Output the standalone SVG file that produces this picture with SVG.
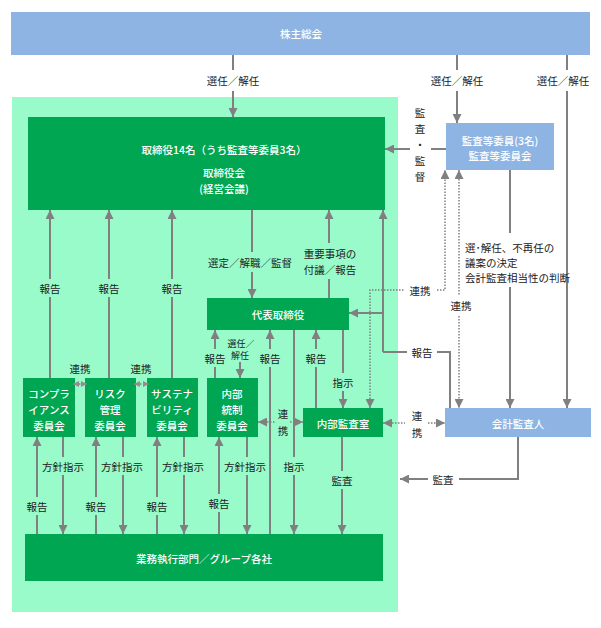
<svg xmlns="http://www.w3.org/2000/svg" width="601" height="628" viewBox="0 0 601 628">
<defs>
<marker id="ah" viewBox="0 0 10 10" refX="10" refY="5" markerWidth="9" markerHeight="9" markerUnits="userSpaceOnUse" orient="auto-start-reverse"><path d="M0,0 L10,5 L0,10 z" fill="#808080"/></marker>
<marker id="ahs" viewBox="0 0 10 10" refX="10" refY="5" markerWidth="6" markerHeight="9" markerUnits="userSpaceOnUse" orient="auto-start-reverse"><path d="M0,0 L10,5 L0,10 z" fill="#9a8a90"/></marker>
<style>
.ln{fill:none;stroke:#808080;stroke-width:2}
.dt{fill:none;stroke:#808080;stroke-width:1.5;stroke-dasharray:1.5 1.5}
.t{font-family:"Noto Sans CJK JP","Noto Sans",sans-serif;font-size:10.5px;fill:#222;text-anchor:middle;dominant-baseline:central}
.w{font-family:"Noto Sans CJK JP","Noto Sans",sans-serif;font-size:10.5px;fill:#fff;text-anchor:middle;dominant-baseline:central;font-weight:500}
.s{font-size:9px}
.l{text-anchor:start}
.blue{fill:#8DB4E2}
.dg{fill:#00A651}
</style>
</defs>
<rect x="12" y="97" width="386" height="515" fill="#99FBC9"/>

<g id="shareholders"><rect class="blue" x="11" y="12" width="579" height="43"/><text class="w" x="301" y="33">株主総会</text></g>
<g id="board"><rect class="dg" x="28" y="117" width="357" height="93"/><text class="w" x="224" y="149">取締役14名（うち監査等委員3名）</text><text class="w" x="224" y="172">取締役会</text><text class="w" x="224" y="188">(経営会議)</text></g>
<g id="audit-committee"><rect class="blue" x="446" y="123" width="108" height="47"/><text class="w" x="500" y="140">監査等委員(3名)</text><text class="w" x="500" y="155">監査等委員会</text></g>
<g id="representative"><rect class="dg" x="207" y="298" width="142" height="32"/><text class="w" x="278" y="314">代表取締役</text></g>
<g id="compliance"><rect class="dg" x="23" y="378" width="52" height="59"/><text class="w" x="49" y="393">コンプラ</text><text class="w" x="49" y="409">イアンス</text><text class="w" x="49" y="425">委員会</text></g>
<g id="risk"><rect class="dg" x="85" y="378" width="51" height="59"/><text class="w" x="110" y="393">リスク</text><text class="w" x="110" y="409">管理</text><text class="w" x="110" y="425">委員会</text></g>
<g id="sustainability"><rect class="dg" x="147" y="378" width="51" height="59"/><text class="w" x="172" y="393">サステナ</text><text class="w" x="172" y="409">ビリティ</text><text class="w" x="172" y="425">委員会</text></g>
<g id="internal-control"><rect class="dg" x="207" y="378" width="51" height="59"/><text class="w" x="232" y="393">内部</text><text class="w" x="232" y="409">統制</text><text class="w" x="232" y="425">委員会</text></g>
<g id="internal-audit"><rect class="dg" x="303" y="408" width="80" height="29"/><text class="w" x="343" y="423">内部監査室</text></g>
<g id="accounting-auditor"><rect class="blue" x="445" y="408" width="146" height="29"/><text class="w" x="518" y="423">会計監査人</text></g>
<g id="business"><rect class="dg" x="25" y="534" width="358" height="47"/><text class="w" x="204" y="558">業務執行部門／グループ各社</text></g>

<g id="connectors">
<path class="ln" d="M233,55 V70"/><path class="ln" d="M233,91 V117" marker-end="url(#ah)"/>
<path class="ln" d="M457,55 V70"/><path class="ln" d="M457,91 V123" marker-end="url(#ah)"/>
<path class="ln" d="M567,55 V70"/><path class="ln" d="M567,91 V408" marker-end="url(#ah)"/>
<text class="t" x="233" y="80">選任／解任</text><text class="t" x="457" y="80">選任／解任</text><text class="t" x="563" y="80">選任／解任</text>

<path class="ln" d="M446,149 H431"/><path class="ln" d="M410,149 H385" marker-end="url(#ah)"/>
<text class="t" x="420" y="112">監</text><text class="t" x="420" y="128">査</text><text class="t" x="420" y="144">・</text><text class="t" x="420" y="160">監</text><text class="t" x="420" y="176">督</text>

<path class="ln" d="M252,210 V252"/><path class="ln" d="M252,272 V298" marker-end="url(#ah)"/>
<text class="t" x="250" y="262">選定／解職／監督</text>
<path class="ln" d="M329,298 V279"/><path class="ln" d="M329,243 V210" marker-end="url(#ah)"/>
<text class="t" x="330" y="253">重要事項の</text><text class="t" x="330" y="269">付議／報告</text>

<path class="ln" d="M450,408 V352 H437"/><path class="ln" d="M407,352 H383"/><path class="ln" d="M383,352 V210" marker-end="url(#ah)"/><path class="ln" d="M383,313 H349" marker-end="url(#ah)"/>
<text class="t" x="422" y="352">報告</text>

<path class="ln" d="M510,170 V233"/><path class="ln" d="M510,287 V408" marker-end="url(#ah)"/>
<text class="t l" x="465" y="247">選･解任、不再任の</text><text class="t l" x="465" y="262">議案の決定</text><text class="t l" x="465" y="277">会計監査相当性の判断</text>

<path class="dt" d="M370,408 V290 H404" marker-start="url(#ah)"/><path class="dt" d="M437,290 H445 V170" marker-end="url(#ah)"/>
<text class="t" x="420" y="290">連携</text>
<path class="dt" d="M459,170 V295" marker-start="url(#ah)"/><path class="dt" d="M459,316 V408" marker-end="url(#ah)"/>
<text class="t" x="461" y="305">連携</text>
<path class="dt" d="M383,423 H405" marker-start="url(#ah)"/><path class="dt" d="M428,423 H445" marker-end="url(#ah)"/>
<text class="t" x="417" y="415">連</text><text class="t" x="417" y="432">携</text>
<path class="dt" d="M258,422 H276" marker-start="url(#ah)"/><path class="dt" d="M290,422 H303" marker-end="url(#ah)"/>
<text class="t" x="283" y="413">連</text><text class="t" x="283" y="430">携</text>

<path class="ln" d="M50,378 V297"/><path class="ln" d="M50,279 V210" marker-end="url(#ah)"/><text class="t" x="50" y="288">報告</text>
<path class="ln" d="M109,378 V297"/><path class="ln" d="M109,279 V210" marker-end="url(#ah)"/><text class="t" x="109" y="288">報告</text>
<path class="ln" d="M172,378 V297"/><path class="ln" d="M172,279 V210" marker-end="url(#ah)"/><text class="t" x="172" y="288">報告</text>

<path class="dt" d="M73,384 H87" marker-start="url(#ahs)" marker-end="url(#ahs)"/>
<path class="dt" d="M134,384 H149" marker-start="url(#ahs)" marker-end="url(#ahs)"/>
<text class="t" x="80" y="368">連携</text><text class="t" x="141" y="368">連携</text>

<path class="ln" d="M215,378 V367"/><path class="ln" d="M215,349 V330" marker-end="url(#ah)"/><text class="t" x="215" y="358">報告</text>
<path class="ln" d="M240,362 V378" marker-end="url(#ah)"/>
<text class="t s" x="241" y="343">選任／</text><text class="t s" x="240" y="355">解任</text>
<path class="ln" d="M270,534 V367"/><path class="ln" d="M270,349 V330" marker-end="url(#ah)"/><text class="t" x="270" y="358">報告</text>
<path class="ln" d="M294,330 V457"/><path class="ln" d="M294,475 V534" marker-end="url(#ah)"/><text class="t" x="294" y="466">指示</text>
<path class="ln" d="M316,408 V367"/><path class="ln" d="M316,349 V330" marker-end="url(#ah)"/><text class="t" x="316" y="358">報告</text>
<path class="ln" d="M343,330 V373"/><path class="ln" d="M343,391 V408" marker-end="url(#ah)"/><text class="t" x="343" y="382">指示</text>
<path class="ln" d="M342,437 V471"/><path class="ln" d="M342,489 V534" marker-end="url(#ah)"/><text class="t" x="342" y="480">監査</text>
<path class="ln" d="M518,437 V479 H459"/><path class="ln" d="M428,479 H400" marker-end="url(#ah)"/><text class="t" x="443" y="479">監査</text>

<path class="ln" d="M37,534 V515"/><path class="ln" d="M37,497 V437" marker-end="url(#ah)"/><text class="t" x="37" y="506">報告</text>
<path class="ln" d="M63,437 V457"/><path class="ln" d="M63,475 V534" marker-end="url(#ah)"/><text class="t" x="63" y="466">方針指示</text>
<path class="ln" d="M96,534 V515"/><path class="ln" d="M96,497 V437" marker-end="url(#ah)"/><text class="t" x="96" y="506">報告</text>
<path class="ln" d="M123,437 V457"/><path class="ln" d="M123,475 V534" marker-end="url(#ah)"/><text class="t" x="122" y="466">方針指示</text>
<path class="ln" d="M157,534 V515"/><path class="ln" d="M157,497 V437" marker-end="url(#ah)"/><text class="t" x="157" y="506">報告</text>
<path class="ln" d="M184,437 V457"/><path class="ln" d="M184,475 V534" marker-end="url(#ah)"/><text class="t" x="183" y="466">方針指示</text>
<path class="ln" d="M219,534 V512"/><path class="ln" d="M219,494 V437" marker-end="url(#ah)"/><text class="t" x="219" y="503">報告</text>
<path class="ln" d="M247,437 V457"/><path class="ln" d="M247,475 V534" marker-end="url(#ah)"/><text class="t" x="245" y="466">方針指示</text>
</g>
</svg>
